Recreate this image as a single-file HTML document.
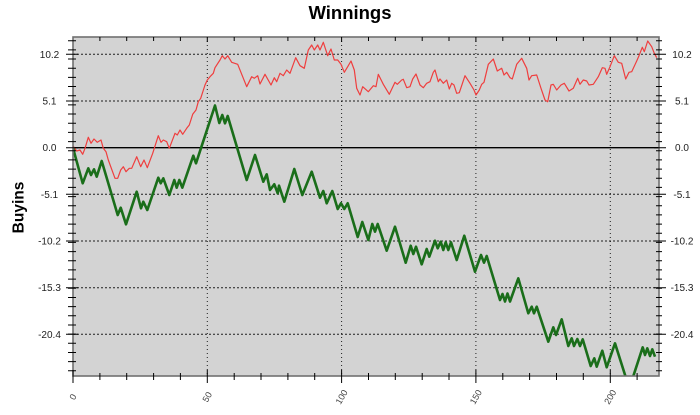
<!DOCTYPE html>
<html>
<head>
<meta charset="utf-8">
<style>
html,body{margin:0;padding:0;background:#fff;}
svg{display:block;}
text{font-family:"Liberation Sans",Arial,sans-serif;}
</style>
</head>
<body>
<svg width="700" height="415" viewBox="0 0 700 415" xmlns="http://www.w3.org/2000/svg">
<defs>
<clipPath id="pc"><rect x="73" y="37" width="586" height="339"/></clipPath>
</defs>
<rect x="0" y="0" width="700" height="415" fill="#fff"/>
<rect x="73" y="37" width="586" height="339" fill="#d3d3d3"/>

<!-- horizontal grid -->
<g stroke="#000" stroke-width="1" stroke-dasharray="2,2" opacity="0.85">
<line x1="73" y1="54.3" x2="659" y2="54.3"/>
<line x1="73" y1="101" x2="659" y2="101"/>
<line x1="73" y1="194.3" x2="659" y2="194.3"/>
<line x1="73" y1="241" x2="659" y2="241"/>
<line x1="73" y1="287.7" x2="659" y2="287.7"/>
<line x1="73" y1="334.3" x2="659" y2="334.3"/>
</g>
<!-- vertical grid -->
<g stroke="#000" stroke-width="1" stroke-dasharray="1,3" opacity="0.85">
<line x1="207.3" y1="37" x2="207.3" y2="376"/>
<line x1="341.6" y1="37" x2="341.6" y2="376"/>
<line x1="475.9" y1="37" x2="475.9" y2="376"/>
<line x1="610.3" y1="37" x2="610.3" y2="376"/>
</g>
<!-- zero line -->
<line x1="73" y1="147.7" x2="659" y2="147.7" stroke="#000" stroke-width="1.3"/>

<g clip-path="url(#pc)">
<polyline fill="none" stroke="#ef3e3e" stroke-width="1.2" stroke-linejoin="round" points="73,146 76.7,151 80,150 82.7,154.3 85,148.3 88.3,137.3 91,143.3 94,139 97.3,142.3 101,140 103.3,148.3 106,151.7 108.3,160 115,178.3 117.7,178.3 120.7,170 123.3,166.7 126,171.7 129.3,168.3 131.7,168.3 136.7,156.7 140.7,166.7 144,160 147.3,167.7 152.7,153.3 158.3,135.7 161,142.3 163.3,140 166.7,141.7 169.3,148.3 175,133.3 177.3,135 180,130 182.7,134.3 186.7,128.3 189.3,125 192.7,114.3 196,110 198.3,101.7 200.7,98.3 205,85 207.3,80 210,76.7 213.3,73.3 215,67.7 220,60 222.3,55.7 225,59 227.7,55.7 231.7,62.3 237.7,64.3 246.7,86.7 251.7,76.7 254.3,78.3 257.7,75.7 260,84 265,74.3 271,85 274.3,77.7 276.7,81.7 280,73.3 283.3,75.7 286.7,70 290,73.3 295.7,57.7 300,65.7 304.3,68.3 308.3,50 311.7,45 314.3,50 317.7,45 320,50 323.3,42.3 327.7,55.7 331,49 334.3,60 337.7,60 341,64.3 344.3,72.3 347.7,66.7 351,61 354.3,70 356.7,88.3 360,95 362.7,86.7 368.3,91.7 373.3,85.7 376,86.7 378.3,74.3 383.3,84.3 389.3,94.3 395,82.3 397.3,84.3 401.7,80 403.3,79.3 406.7,87.7 410,86.7 412.7,79 416,74 420,85 423.3,87.7 426.7,83.3 430,81.7 433.3,72.3 435,70 438.3,81.7 440,79 443.3,83.3 446.7,80 449.3,89 451.7,83.3 454,85 456.7,93.3 459.3,92.7 465,75.7 470,83.3 474,90 476,95 479.3,90 481.7,84.3 484,82.3 488.3,64.3 493.3,59 497.3,71 501.7,68.3 504,75 506.7,72.3 510,77.7 512.3,79 516.7,64.3 521.7,58.3 526.7,68.3 529,80 531.7,75.7 536.7,75 541,88.3 545,100 547.7,101.7 551,85 553.3,84.3 556.7,90 561,85 564.3,83.3 569,91 573.3,88.3 577.7,78.3 580,84.3 583.3,80 586.7,81 589,85 593.3,84.3 598.3,76.7 602.3,67.7 605,68.3 606.7,74.3 610,66.7 614.3,55.7 618.3,62.3 621.7,63.3 625.7,79 629,72.3 631.7,71.7 636.7,61 639,55.7 642.3,47.3 644.3,51.7 647.7,41 651.7,46.7 654.3,53.3 656.7,57.7"/>
<polyline fill="none" stroke="#1a6e1a" stroke-width="2.6" stroke-linejoin="round" points="73,148 82.7,183.3 88.3,168.3 91,175 94,169.3 96.7,176.7 101.7,161 117.7,215 120.7,207.7 126,224.3 136.7,191.7 141,208.3 143.3,201.7 147.3,210 158.3,177.7 160.7,183.3 163.3,178.3 169.3,195 174.3,180 176.7,187.7 179.3,180 182.3,187.7 193.3,155.7 196,163.3 215,105.5 219.3,123 222.3,115 225,123.3 227.7,116 246.7,180 255,155 263.3,181.7 266.7,174.3 270,190 274.3,184.3 277.7,193.3 279,185.7 284.3,201.7 294.3,169 302.3,195 311.7,171.7 320,197.7 323.3,191 326.7,203.3 332.3,191 337.7,209 341,203.3 344.3,209 347.7,203.3 357.7,237 362.3,222 368.3,240 372.3,224 375,231.7 377.7,224 386.7,250.7 395,226.7 405.7,262.7 410.7,245.7 413.3,254 416,246.7 421.7,264.3 426.7,249 429.3,256.7 435,240.7 437.7,248.3 440.7,241.7 443.3,250 445.7,242.3 448.3,250 451,242.3 456.7,260 464.3,235.7 475,271.7 481,255 484,262.7 486.7,256 500,300 502.5,294 505,301.5 507.5,293.5 510,301.5 518.3,278.3 528.3,313.3 531.7,306.7 534,313.3 536.7,306.7 548.3,341.7 553.3,327.3 556,335 561.7,319.3 568.3,346 571.7,338.3 574,346 577.3,339 580,346 582.7,339.3 590.7,366 594.3,358.3 596.7,366.7 602.3,350.7 606.7,367.3 615,343.3 626,378 632.7,378 642.7,347.3 645,355 647.3,348.3 650,356 652.3,349.3 655,356.7"/>
</g>

<!-- frame -->
<rect x="73" y="37" width="586" height="339" fill="none" stroke="#707070" stroke-width="1.6"/>

<!-- y ticks left & right -->
<g stroke="#000" stroke-width="1">
<path d="M68,40.7H76M68,49.9H76M68,59H76M68,68.2H76M68,77.4H76M68,86.5H76M68,95.7H76M68,104.9H76M68,114H76M68,123.2H76M68,132.4H76M68,141.6H76M68,150.7H76M68,159.9H76M68,169.1H76M68,178.2H76M68,187.4H76M68,196.6H76M68,205.8H76M68,214.9H76M68,224.1H76M68,233.3H76M68,242.4H76M68,251.6H76M68,260.8H76M68,269.9H76M68,279.1H76M68,288.3H76M68,297.5H76M68,306.6H76M68,315.8H76M68,325H76M68,334.1H76M68,343.3H76M68,352.5H76M68,361.6H76M68,370.8H76"/>
<path d="M656,40.7H662M656,49.9H662M656,59H662M656,68.2H662M656,77.4H662M656,86.5H662M656,95.7H662M656,104.9H662M656,114H662M656,123.2H662M656,132.4H662M656,141.6H662M656,150.7H662M656,159.9H662M656,169.1H662M656,178.2H662M656,187.4H662M656,196.6H662M656,205.8H662M656,214.9H662M656,224.1H662M656,233.3H662M656,242.4H662M656,251.6H662M656,260.8H662M656,269.9H662M656,279.1H662M656,288.3H662M656,297.5H662M656,306.6H662M656,315.8H662M656,325H662M656,334.1H662M656,343.3H662M656,352.5H662M656,361.6H662M656,370.8H662"/>
<path d="M66,54.3H78M66,101H78M66,147.7H78M66,194.3H78M66,241H78M66,287.7H78M66,334.3H78"/>
<path d="M654,54.3H666M654,101H666M654,147.7H666M654,194.3H666M654,241H666M654,287.7H666M654,334.3H666"/>
<!-- x ticks bottom -->
<path d="M99.9,373V380M126.7,373V380M153.6,373V380M180.4,373V380M234.2,373V380M261,373V380M287.9,373V380M314.7,373V380M368.5,373V380M395.3,373V380M422.2,373V380M449,373V380M502.8,373V380M529.6,373V380M556.5,373V380M583.3,373V380M637.1,373V380"/>
<path d="M73,370V383M207.3,370V383M341.6,370V383M475.9,370V383M610.3,370V383"/>
<!-- x ticks top -->
<path d="M99.9,37V41M126.7,37V41M153.6,37V41M180.4,37V41M207.3,37V42M234.2,37V41M261,37V41M287.9,37V41M314.7,37V41M341.6,37V42M368.5,37V41M395.3,37V41M422.2,37V41M449,37V41M475.9,37V42M502.8,37V41M529.6,37V41M556.5,37V41M583.3,37V41M610.3,37V42M637.1,37V41"/>
</g>

<!-- y labels -->
<g font-size="10" fill="#222" text-anchor="middle">
<text x="49.5" y="57.8">10.2</text>
<text x="49.5" y="104.5">5.1</text>
<text x="49.5" y="151.2">0.0</text>
<text x="49.5" y="197.8">-5.1</text>
<text x="49.5" y="244.5">-10.2</text>
<text x="49.5" y="291.2">-15.3</text>
<text x="49.5" y="337.8">-20.4</text>
<text x="682" y="57.8">10.2</text>
<text x="682" y="104.5">5.1</text>
<text x="682" y="151.2">0.0</text>
<text x="682" y="197.8">-5.1</text>
<text x="682" y="244.5">-10.2</text>
<text x="682" y="291.2">-15.3</text>
<text x="682" y="337.8">-20.4</text>
</g>

<!-- x labels -->
<g font-size="9" fill="#444" text-anchor="middle">
<text transform="translate(73,397) rotate(-60)" y="3">0</text>
<text transform="translate(207.3,397) rotate(-60)" y="3">50</text>
<text transform="translate(341.6,397) rotate(-60)" y="3">100</text>
<text transform="translate(475.9,397) rotate(-60)" y="3">150</text>
<text transform="translate(610.3,397) rotate(-60)" y="3">200</text>
</g>

<text x="350" y="19" font-size="18.5" font-weight="bold" text-anchor="middle" fill="#000">Winnings</text>
<text transform="translate(23.5,207.5) rotate(-90)" font-size="15.5" font-weight="bold" text-anchor="middle" fill="#000">Buyins</text>
</svg>
</body>
</html>
